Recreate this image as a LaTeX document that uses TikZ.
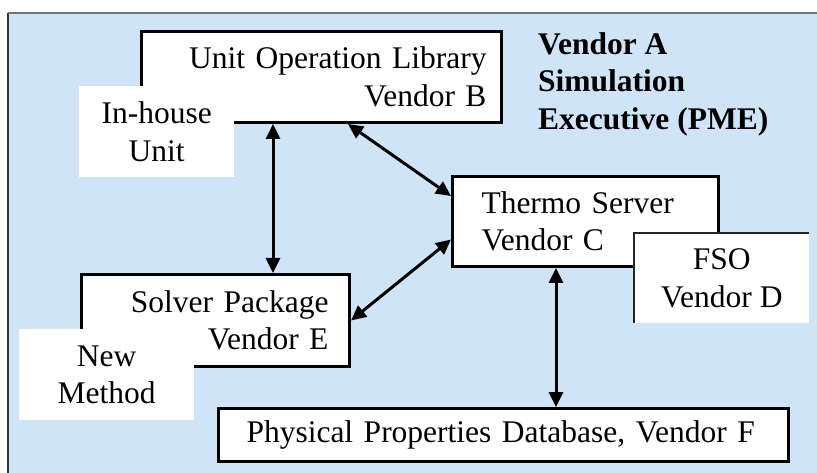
\documentclass[tikz,border=0pt]{standalone}
\usepackage{fontspec}
\setmainfont{Liberation Serif}
\usetikzlibrary{arrows.meta}
\definecolor{panelblue}{RGB}{208,228,247}
\begin{document}
\begin{tikzpicture}[x=1pt,y=-1pt,
  every node/.style={font=\fontsize{31.5}{37.5}\selectfont},
  unitbox/.style={draw=black, line width=3pt, fill=white, inner ysep=0pt, anchor=north west},
  addon/.style={fill=white, inner sep=0pt, anchor=north west, align=center},
  link/.style={line width=3pt, {Triangle[length=15pt,width=14pt]}-{Triangle[length=15pt,width=14pt]}}]
\useasboundingbox (0,0) rectangle (817,473);
\fill[white] (0,0) rectangle (817,473);
% executive panel
\fill[panelblue] (8,13) rectangle (817,473);
\draw[black!80, line width=1.3pt] (8,473) -- (8,13);
\draw[black!55, line width=1.3pt] (8,13) -- (817,13);

% vendor components
\node[unitbox, minimum width=360pt, minimum height=91pt, text width=330pt,
      inner xsep=15pt, align=right] (uol) at (140,30)
      {Unit Operation Library\\Vendor B};
\node[unitbox, minimum width=266pt, minimum height=90pt, text width=208pt,
      inner xsep=29pt, align=left] (thermo) at (451,175)
      {Thermo Server\\Vendor C};
\node[unitbox, minimum width=268pt, minimum height=92pt, text width=226pt,
      inner xsep=21pt, align=right] (solver) at (80,273)
      {Solver Package\\Vendor E};
\node[unitbox, minimum width=570pt, minimum height=53pt, text width=514pt,
      inner xsep=28pt, align=left] (phys) at (217,407)
      {Physical Properties Database, Vendor F};

% plug-in components
\node[addon, minimum width=155pt, minimum height=91pt] (inhouse) at (79,86)
      {In-house\\Unit};
\node[addon, minimum width=175pt, minimum height=91pt] (newmethod) at (19,329)
      {New\\Method};
\node[addon, minimum width=175pt, minimum height=90pt] (fso) at (634,233)
      {FSO\\Vendor D};
\draw[black!85, line width=1.2pt] (fso.south west) -- (fso.north west) -- (fso.north east);

% executive title
\node[font=\bfseries\fontsize{31.5}{37.5}\selectfont, anchor=north west,
      align=left, inner sep=0pt] (pme) at (538,32)
      {Vendor A\\Simulation\\Executive (PME)};

% interfaces
\draw[link] ([xshift=133pt]uol.south west) -- ([xshift=133pt]uol.south west |- solver.north);
\draw[link] ([xshift=208pt]uol.south west) -- ([yshift=-21pt]thermo.north west);
\draw[link] (solver.east) -- ([yshift=-18pt]thermo.west);
\draw[link] ([xshift=105pt]thermo.south west) -- ([xshift=105pt]thermo.south west |- phys.north);
\end{tikzpicture}
\end{document}
